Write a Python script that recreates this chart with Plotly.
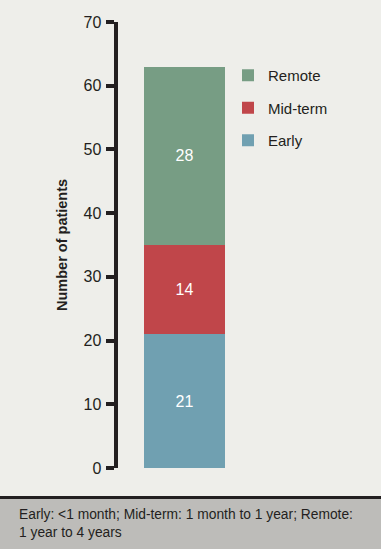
import plotly.graph_objects as go

W, H = 381, 549

# Data
series_names = ["Early", "Mid-term", "Remote"]
series_values = [21, 14, 28]
series_colors = ["#70a0b1", "#c0464a", "#779d84"]
legend_ranks = [3, 2, 1]
y_ticks = [0, 10, 20, 30, 40, 50, 60, 70]
y_title = "Number of patients"
footnote = "Early: &lt;1 month; Mid-term: 1 month to 1 year; Remote:<br>1 year to 4 years"

FONT = "Liberation Sans, Arial, sans-serif"
DARK = "#231f20"

def py(p):
    return (H - p) / H

fig = go.Figure()
for name, val, col, rank in zip(series_names, series_values, series_colors, legend_ranks):
    fig.add_trace(go.Bar(
        x=[0], y=[val], name=name, marker=dict(color=col, line=dict(width=0)),
        width=1, text=[str(val)], textposition="inside", insidetextanchor="middle",
        textfont=dict(color="white", size=16, family=FONT),
        legendgroup=name, legendrank=rank,
    ))

x_left_px, bar_l, bar_r = 117.5, 144, 225
bar_c = (bar_l + bar_r) / 2
ppu = bar_r - bar_l
fig.update_layout(
    width=W, height=H,
    margin=dict(l=0, r=0, t=0, b=0, autoexpand=False),
    paper_bgcolor="#eeeeea", plot_bgcolor="rgba(0,0,0,0)",
    barmode="stack",
    showlegend=True,
    legend=dict(x=228 / W, y=py(59), xanchor="left", yanchor="top",
                traceorder="grouped", tracegroupgap=10, itemwidth=30,
                font=dict(size=15, family=FONT, color=DARK),
                bgcolor="rgba(0,0,0,0)"),
    xaxis=dict(domain=[x_left_px / W, 1], visible=False,
               range=[-(bar_c - x_left_px) / ppu, (W - bar_c) / ppu]),
    yaxis=dict(domain=[py(468), py(22)], range=[0, 70], tickvals=y_ticks,
               automargin=False,
               showline=True, linewidth=4, linecolor=DARK,
               ticks="outside", ticklen=8, tickwidth=4, tickcolor=DARK,
               ticklabelstandoff=1,
               showgrid=False, zeroline=False,
               tickfont=dict(size=16, family=FONT, color=DARK)),
    font=dict(family=FONT, color=DARK),
)

fig.add_annotation(text="<b>" + y_title + "</b>", textangle=-90, xref="paper", yref="paper",
                   x=62 / W, y=py(245), showarrow=False, xanchor="center", yanchor="middle",
                   font=dict(size=14.5, family=FONT, color=DARK))

# footer
fig.add_shape(type="rect", xref="paper", yref="paper", x0=0, x1=1, y0=0, y1=py(499),
              fillcolor="#bdbcb9", line=dict(width=0), layer="below")
fig.add_shape(type="rect", xref="paper", yref="paper", x0=0, x1=1, y0=py(499), y1=py(496),
              fillcolor=DARK, line=dict(width=0), layer="below")
fig.add_annotation(text=footnote, xref="paper", yref="paper", x=17 / W, y=py(523),
                   xanchor="left", yanchor="middle", align="left", showarrow=False,
                   font=dict(size=13.8, family=FONT, color=DARK))

fig.write_html("out.html", config={"displayModeBar": False},
               post_script="document.body.style.margin='0';")
